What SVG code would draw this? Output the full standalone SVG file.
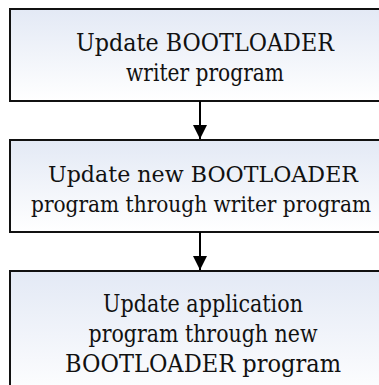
<svg xmlns="http://www.w3.org/2000/svg" width="379" height="385" viewBox="0 0 379 385">
  <style>
    .box { stroke: #111; stroke-width: 2; fill: url(#boxFill); }
    .label { font-family: 'DejaVu Serif', serif; font-size: 24px; fill: #111; text-anchor: middle; }
    .tight { font-size: 22px; }
    .narrow { font-size: 19px; }
    .link { stroke: #000; stroke-width: 2; fill: none; }
  </style>
  <defs>
    <linearGradient id="boxFill" x1="0" y1="0" x2="0" y2="1">
      <stop offset="0" stop-color="#e3e9f5"/>
      <stop offset="1" stop-color="#ffffff"/>
    </linearGradient>
    <marker id="arrow" viewBox="0 0 14 16" refX="14" refY="7" markerWidth="14" markerHeight="16" markerUnits="userSpaceOnUse" orient="auto">
      <path d="M0,0 L14,7 L0,14 Z" fill="#000"/>
    </marker>
  </defs>

  <g id="step1">
    <rect class="box" x="10" y="9" width="390" height="92"/>
    <text class="label" x="205" y="51" textLength="258" lengthAdjust="spacingAndGlyphs">Update BOOTLOADER</text>
    <text class="label" x="205" y="81" textLength="158" lengthAdjust="spacingAndGlyphs">writer program</text>
  </g>

  <g id="step2">
    <rect class="box" x="10" y="140" width="390" height="92"/>
    <text class="label tight" x="203" y="182" textLength="310" lengthAdjust="spacingAndGlyphs">Update new BOOTLOADER</text>
    <!-- long line: set smaller, then stretched vertically to match the other lines -->
    <g transform="translate(201,212) scale(1,1.16)">
      <text class="label narrow" x="0" y="0" textLength="340" lengthAdjust="spacingAndGlyphs">program through writer program</text>
    </g>
  </g>

  <g id="step3">
    <rect class="box" x="10" y="271" width="390" height="130"/>
    <text class="label" x="203" y="312" textLength="200" lengthAdjust="spacingAndGlyphs">Update application</text>
    <text class="label" x="203" y="342" textLength="229" lengthAdjust="spacingAndGlyphs">program through new</text>
    <text class="label" x="203" y="372" textLength="276" lengthAdjust="spacingAndGlyphs">BOOTLOADER program</text>
  </g>

  <g id="connectors">
    <line class="link" x1="200" y1="101" x2="200" y2="139" marker-end="url(#arrow)"/>
    <line class="link" x1="200" y1="232" x2="200" y2="270" marker-end="url(#arrow)"/>
  </g>
</svg>
